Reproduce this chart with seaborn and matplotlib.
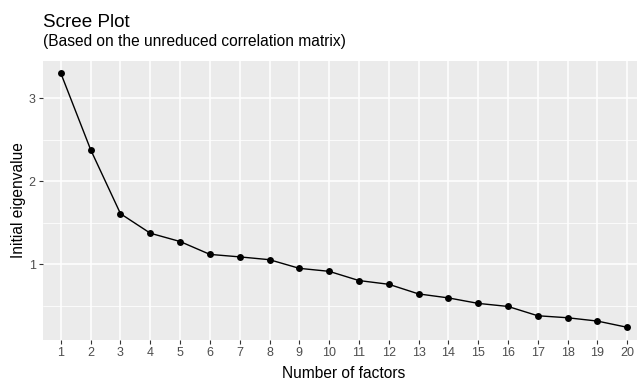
import matplotlib
matplotlib.use("Agg")
import matplotlib.pyplot as plt
from matplotlib.ticker import MultipleLocator
import seaborn as sns
import pandas as pd

factors = list(range(1, 21))
eigenvalues = [3.30, 2.38, 1.61, 1.375, 1.275, 1.12, 1.09, 1.056, 0.952, 0.916,
               0.805, 0.76, 0.644, 0.596, 0.53, 0.493, 0.381, 0.357, 0.317, 0.242]
x_tick_labels = [str(f) for f in factors]
y_ticks = [1, 2, 3]

title = "Scree Plot"
subtitle = "(Based on the unreduced correlation matrix)"
x_label = "Number of factors"
y_label = "Initial eigenvalue"

df = pd.DataFrame({"factor": factors, "eigenvalue": eigenvalues})

sns.set_theme(style="darkgrid")
plt.rcParams["font.family"] = ["Liberation Sans", "DejaVu Sans"]

W, H = 637, 383
fig = plt.figure(figsize=(W / 100, H / 100), dpi=100)
ax = fig.add_axes([43 / W, 1 - 340 / H, (W - 43) / W, (340 - 61) / H])
ax.set_facecolor("#EBEBEB")

sns.lineplot(data=df, x="factor", y="eigenvalue", ax=ax, color="black",
             linewidth=1.0, marker="o", markersize=5, markeredgewidth=0,
             zorder=3)

ax.set_xlim(0.4, 20.33)
ax.set_ylim(0.089, 3.449)
ax.set_xticks(factors)
ax.set_xticklabels(x_tick_labels)
ax.set_yticks(y_ticks)
ax.set_yticklabels([str(v) for v in y_ticks])
ax.yaxis.set_minor_locator(MultipleLocator(0.5))

ax.grid(which="major", color="white", linewidth=1.1)
ax.grid(which="minor", axis="y", color="white", linewidth=0.55)
ax.grid(which="minor", axis="x", visible=False)
ax.set_axisbelow(True)
for s in ax.spines.values():
    s.set_visible(False)

ax.tick_params(axis="both", which="major", length=2.8, width=0.8,
               color="#333333", labelcolor="#4D4D4D", labelsize=9.0,
               pad=2.5, bottom=True, left=True)
ax.tick_params(axis="both", which="minor", length=0)

ax.set_xlabel(x_label, fontsize=11.2, color="black")
ax.set_ylabel(y_label, fontsize=11.2, color="black")
ax.xaxis.label.set_va("center")
ax.yaxis.label.set_va("center")
ax.xaxis.set_label_coords((344 - 43) / 594, -(373 - 340) / 279)
ax.yaxis.set_label_coords((19 - 43) / 594, 0.5)

fig.text(43 / W, 1 - 27 / H, title, fontsize=13.6, color="black", va="baseline")
fig.text(43 / W, 1 - 46 / H, subtitle, fontsize=11.2, color="black", va="baseline")

fig.savefig("out.png", dpi=100)
